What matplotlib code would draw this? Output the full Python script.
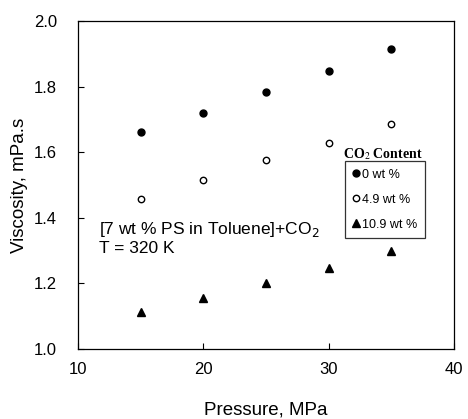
import numpy as np
import matplotlib
matplotlib.use("Agg")
from matplotlib import pyplot as plt

plt.rcParams["font.family"] = ["Liberation Sans", "DejaVu Sans"]

pressure = [15, 20, 25, 30, 35]
visc_0 = [1.663, 1.720, 1.785, 1.847, 1.915]
visc_49 = [1.457, 1.515, 1.575, 1.628, 1.687]
visc_109 = [1.113, 1.155, 1.200, 1.248, 1.300]
labels = ["0 wt %", "4.9 wt %", "10.9 wt %"]

fig = plt.figure(figsize=(4.68, 4.19), dpi=100)
ax = fig.add_axes([78 / 468, 1 - 349 / 419, 376 / 468, 328 / 419])

ax.plot(pressure, visc_0, "o", color="black", markersize=5, label=labels[0])
ax.plot(pressure, visc_49, "o", mfc="white", mec="black", mew=1.0,
        markersize=4.6, label=labels[1])
ax.plot(pressure, visc_109, "^", color="black", markersize=5.5, label=labels[2])

ax.set_xlim(10, 40)
ax.set_ylim(1.0, 2.0)
ax.set_xticks([10, 20, 30, 40])
ax.set_yticks(np.arange(1.0, 2.01, 0.2))
ax.set_yticklabels([f"{v:.1f}" for v in np.arange(1.0, 2.01, 0.2)])
ax.tick_params(direction="in", length=4, width=0.8, labelsize=12)
ax.tick_params(axis="y", pad=15)
ax.tick_params(axis="x", pad=9)
for s in ax.spines.values():
    s.set_linewidth(0.9)

ax.set_xlabel("Pressure, MPa", fontsize=13.5, labelpad=18)
ax.set_ylabel("Viscosity, mPa.s", fontsize=13.5, labelpad=4)

ax.text(11.7, 1.363, "[7 wt % PS in Toluene]+CO$_2$", fontsize=12.5, va="center")
ax.text(11.7, 1.306, "T = 320 K", fontsize=12.5, va="center")

leg = ax.legend(loc="upper left", bbox_to_anchor=((345 - 78) / 376, (349 - 161) / 328),
                frameon=True, fancybox=False, edgecolor="black", fontsize=9,
                handlelength=0.5, handletextpad=0.25, borderpad=0.6,
                labelspacing=1.05, borderaxespad=0)
leg.get_frame().set_linewidth(0.9)
ax.text(34.34, 1.594, "CO$_2$ Content", fontsize=10, family="Liberation Serif",
        weight="bold", ha="center", va="center", math_fontfamily="stix")

fig.savefig("out.png", dpi=100)
